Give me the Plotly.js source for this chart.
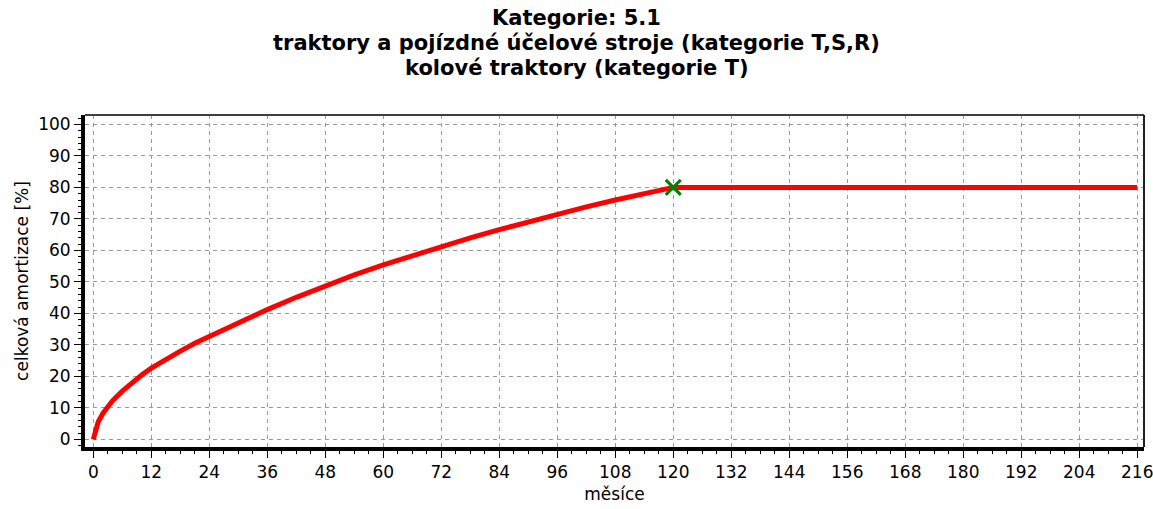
<!DOCTYPE html>
<html>
<head>
<meta charset="utf-8">
<script src="https://cdn.plot.ly/plotly-3.0.1.min.js"></script>
<style>
  html, body { margin: 0; padding: 0; background: #ffffff; }
  #chart { width: 1153px; height: 509px; }
</style>
</head>
<body>
<div id="chart"></div>
<script>
// Data
const months = [0, 1, 2, 3, 4, 6, 8, 10, 12, 15, 18, 21, 24, 30, 36, 42, 48, 54, 60, 66, 72, 78, 84, 90, 96, 102, 108, 114, 120, 216];
const amortization = [0, 5.5, 8.3, 10.5, 12.3, 15.3, 18, 20.4, 22.6, 25.4, 28, 30.5, 32.7, 37.1, 41.2, 45.1, 48.8, 52.2, 55.4, 58.4, 61.3, 64.0, 66.6, 69.1, 71.5, 73.8, 76.0, 78.0, 80, 80];
const markerMonth = [120];
const markerValue = [80];
const xTickVals = [0, 12, 24, 36, 48, 60, 72, 84, 96, 108, 120, 132, 144, 156, 168, 180, 192, 204, 216];
const yTickVals = [0, 10, 20, 30, 40, 50, 60, 70, 80, 90, 100];
const titleLines = [
  'Kategorie: 5.1',
  'traktory a pojízdné účelové stroje (kategorie T,S,R)',
  'kolové traktory (kategorie T)'
];
const xTitle = 'měsíce';
const yTitle = 'celková amortizace [%]';

const titleFont = { family: 'DejaVu Sans, sans-serif', size: 21, color: '#000000', weight: 'bold' };
const tickFont = { family: 'DejaVu Sans, sans-serif', size: 17, color: '#000000' };
const axTitleFont = { family: 'DejaVu Sans, sans-serif', size: 17, color: '#000000' };

const W = 1153, H = 509;
const marginL = 85, marginR = 9;
const plotTop = 115, plotBottom = 447, plotH = plotBottom - plotTop;
const plotW = W - marginL - marginR;
function paperY(px) { return (plotBottom - px) / plotH; }
const titleCenterX = (W / 2 - marginL) / plotW;

const traces = [
  {
    x: months, y: amortization, type: 'scatter', mode: 'lines',
    line: { color: '#ff0000', width: 5 }, hoverinfo: 'skip', showlegend: false
  },
  {
    x: markerMonth, y: markerValue, type: 'scatter', mode: 'markers',
    marker: { symbol: 'x-thin', size: 15, color: '#008000', line: { color: '#008000', width: 3 } },
    showlegend: false
  }
];

const layout = {
  width: W, height: H,
  paper_bgcolor: '#ffffff', plot_bgcolor: '#ffffff',
  margin: { l: marginL, r: marginR, t: plotTop, b: H - plotBottom, pad: 0 },
  showlegend: false,
  title: {
    text: '<b>' + titleLines[0] + '</b>',
    font: titleFont,
    x: 0.5, xref: 'container', xanchor: 'center',
    y: 1 - 18 / H, yref: 'container', yanchor: 'middle'
  },
  annotations: [
    { text: '<b>' + titleLines[1] + '</b>', xref: 'paper', yref: 'paper', x: titleCenterX, y: paperY(43), xanchor: 'center', yanchor: 'middle', showarrow: false, font: titleFont },
    { text: '<b>' + titleLines[2] + '</b>', xref: 'paper', yref: 'paper', x: titleCenterX, y: paperY(68), xanchor: 'center', yanchor: 'middle', showarrow: false, font: titleFont }
  ],
  xaxis: {
    range: [-1.72, 217.4], tickmode: 'array', tickvals: xTickVals, ticktext: xTickVals.map(String),
    showline: true, linecolor: '#000000', linewidth: 4,
    ticks: 'outside', ticklen: 7, tickwidth: 1, tickcolor: '#000000',
    showgrid: true, gridcolor: '#999999', gridwidth: 1, griddash: '4px,4px',
    zeroline: false, tickfont: tickFont,
    minor: { dtick: 3, tick0: 0, ticks: 'outside', ticklen: 3, tickcolor: '#000000', showgrid: false },
    title: { text: xTitle, font: axTitleFont, standoff: 8 },
    automargin: false, ticklabeloverflow: 'allow'
  },
  yaxis: {
    range: [-2.44, 103], tickmode: 'array', tickvals: yTickVals, ticktext: yTickVals.map(String),
    showline: true, linecolor: '#000000', linewidth: 4,
    ticks: 'outside', ticklen: 7, tickwidth: 1, tickcolor: '#000000',
    showgrid: true, gridcolor: '#999999', gridwidth: 1, griddash: '4px,4px',
    zeroline: false, tickfont: tickFont,
    minor: { dtick: 2, tick0: 0, ticks: 'outside', ticklen: 3, tickcolor: '#000000', showgrid: false },
    title: { text: yTitle, font: axTitleFont, standoff: 6 },
    automargin: false
  },
  shapes: [
    { type: 'line', xref: 'paper', yref: 'paper', x0: 0, x1: 1, y0: 1, y1: 1, line: { color: '#404040', width: 2 } },
    { type: 'line', xref: 'paper', yref: 'paper', x0: 1, x1: 1, y0: 0, y1: 1, line: { color: '#202020', width: 2 } }
  ]
};

Plotly.newPlot('chart', traces, layout, { staticPlot: true, displayModeBar: false });
</script>
</body>
</html>
